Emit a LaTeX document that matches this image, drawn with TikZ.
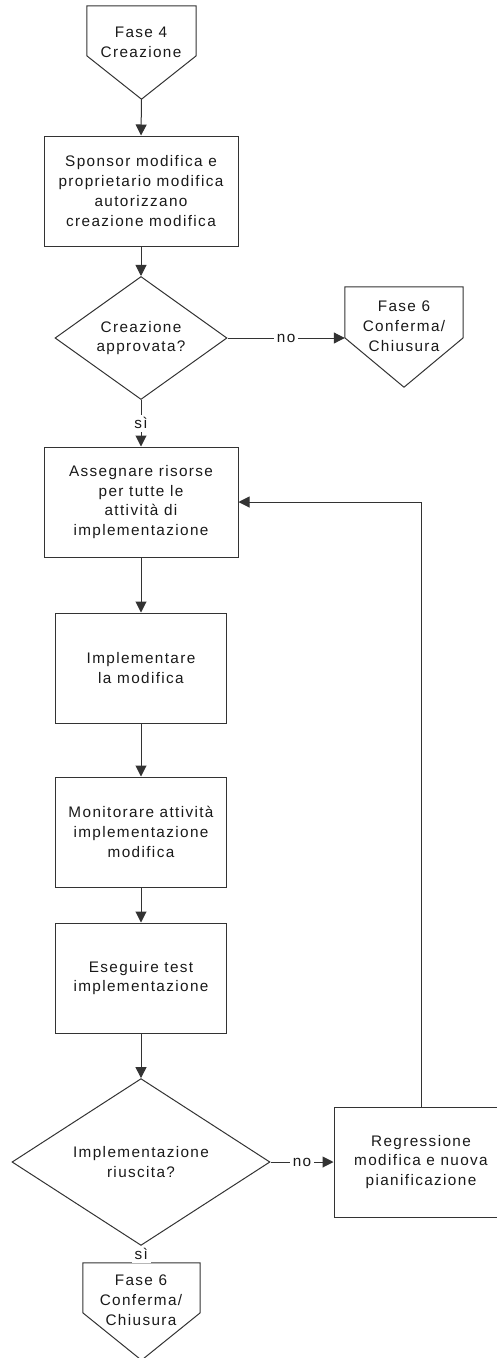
\documentclass[tikz,border=0pt]{standalone}
\usepackage{fontspec}
\setmainfont{Liberation Sans}[LetterSpace=9]
\usetikzlibrary{arrows.meta,shapes.geometric}
\begin{document}
\begin{tikzpicture}[x=1pt,y=-1pt,
  line/.style={draw=black!80, line width=1pt},
  arr/.style={line, -{Triangle[width=11pt,length=11pt]}},
  txt/.style={align=center, font=\fontsize{15.3}{19.8}\selectfont, text=black!90, inner sep=0pt},
  box/.style={txt, line, rectangle, minimum height=110pt},
  dia/.style={txt, line, diamond, minimum height=110pt},
  offp/.style={inner sep=0pt, draw=none},
  lbl/.style={txt, fill=white, inner sep=3pt}
]
\useasboundingbox (0,0) rectangle (497,1358);
\clip (0,0) rectangle (497,1358);

% off-page connector top
\node[offp, minimum width=109pt, minimum height=93pt] (c1) at (141.5,52.5) {};
\draw[line] (c1.north west) -- (c1.north east) -- ([yshift=-50pt]c1.north east) -- (c1.south) -- ([yshift=-50pt]c1.north west) -- cycle;
\node[txt] (c1t) at (141,42) {Fase 4\\Creazione};

\node[box, minimum width=194pt] (b1) at (141,191) {Sponsor modifica e\\proprietario modifica\\autorizzano\\creazione modifica};

\node[dia, minimum width=172pt] (d1) at (141,338) {Creazione\\approvata?};

% off-page connector right
\node[offp, minimum width=118pt, minimum height=100pt] (c2) at (404,337) {};
\draw[line] (c2.north west) -- (c2.north east) -- ([yshift=-51pt]c2.north east) -- (c2.south) -- ([yshift=-51pt]c2.north west) -- cycle;
\node[txt] (c2t) at (404,326) {Fase 6\\Conferma/\\Chiusura};

\node[box, minimum width=194pt] (b2) at (141,502) {Assegnare risorse\\per tutte le\\attività di\\implementazione};
\node[box, minimum width=171pt] (b3) at (141,668) {Implementare\\la modifica};
\node[box, minimum width=171pt] (b4) at (141,832) {Monitorare attività\\implementazione\\modifica};
\node[box, minimum width=171pt] (b5) at (141,978) {Eseguire test\\implementazione};

\node[dia, minimum width=258pt] (d2) at (141,1162) {Implementazione\\riuscita?};
\node[box, minimum width=174pt] (reg) at (421,1162) {Regressione\\modifica e nuova\\pianificazione};

% off-page connector bottom
\node[offp, minimum width=117pt, minimum height=97pt] (c3) at (141.5,1311.5) {};
\draw[line] (c3.north west) -- (c3.north east) -- ([yshift=-50pt]c3.north east) -- (c3.south) -- ([yshift=-50pt]c3.north west) -- cycle;
\node[txt] (c3t) at (141,1300) {Fase 6\\Conferma/\\Chiusura};

% connectors
\draw[arr] (c1.south) -- (b1.north);
\draw[arr] (b1.south) -- (d1.north);
\draw[arr] (d1.east) -- node[lbl] {no} (c2.west |- d1.east);
\draw[arr] (d1.south) -- node[lbl] {sì} (b2.north);
\draw[arr] (b2.south) -- (b3.north);
\draw[arr] (b3.south) -- (b4.north);
\draw[arr] (b4.south) -- (b5.north);
\draw[arr] (b5.south) -- (d2.north);
\draw[arr] (d2.east) -- node[lbl] {no} (reg.west);
\draw[arr] (d2.south) -- node[lbl] {sì} (c3.north);
\draw[arr] (reg.north) |- (b2.east);
\end{tikzpicture}
\end{document}
